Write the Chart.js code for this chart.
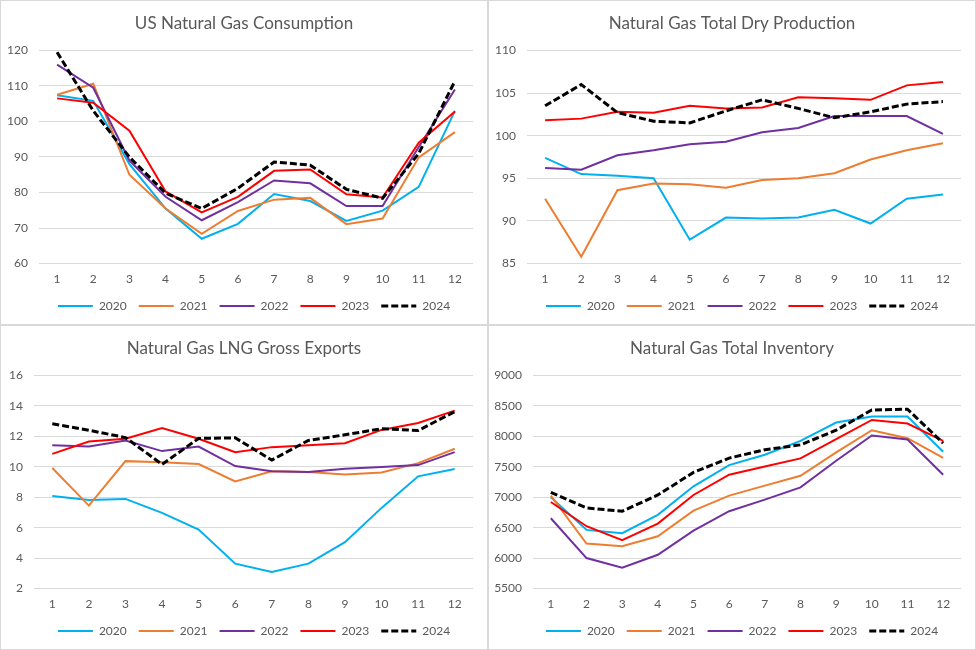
<!DOCTYPE html>
<html>
<head>
<meta charset="utf-8">
<script src="https://cdn.jsdelivr.net/npm/chart.js@4.4.0/dist/chart.umd.min.js"></script>
<style>
    body { margin: 0; background: #ffffff; }
    .painel { position: absolute; width: 488px; height: 325px; box-sizing: border-box; border: 1px solid #d9d9d9; background: #fff; }
    .painel canvas { display: block; }
</style>
</head>
<body>
<div class="painel" style="left:0;top:0"><canvas id="consumo" width="486" height="323"></canvas></div>
<div class="painel" style="left:488px;top:0"><canvas id="producao" width="486" height="323"></canvas></div>
<div class="painel" style="left:0;top:325px"><canvas id="exportacao" width="486" height="323"></canvas></div>
<div class="painel" style="left:488px;top:325px"><canvas id="estoque" width="486" height="323"></canvas></div>

<script>
var meses = ['1', '2', '3', '4', '5', '6', '7', '8', '9', '10', '11', '12'];
var anos = ['2020', '2021', '2022', '2023', '2024'];
var cores = ['#00b0f0', '#ed7d31', '#7030a0', '#ff0000', '#000000'];

// consumo
var consumo2020 = [107.4, 105.8, 88, 75.5, 67, 71.2, 79.6, 77.6, 72, 74.9, 81.6, 103];
var consumo2021 = [107.5, 110.6, 85, 75.5, 68.4, 74.8, 78, 78.5, 71.1, 72.7, 89.9, 97];
var consumo2022 = [116, 109.5, 89, 78.8, 72.2, 77.3, 83.4, 82.6, 76.2, 76.2, 92.8, 109];
var consumo2023 = [106.5, 105.3, 97.4, 80.3, 74.4, 78.8, 86.1, 86.5, 79.5, 78.6, 94, 102.8];
var consumo2024 = [119.5, 103, 90, 79.8, 75.5, 81.2, 88.6, 87.7, 80.9, 78.4, 91, 111.4];

// producao seca total
var producao2020 = [97.4, 95.5, 95.3, 95, 87.8, 90.4, 90.3, 90.4, 91.3, 89.7, 92.6, 93.1];
var producao2021 = [92.6, 85.8, 93.6, 94.4, 94.3, 93.9, 94.8, 95, 95.6, 97.2, 98.3, 99.1];
var producao2022 = [96.2, 96, 97.7, 98.3, 99, 99.3, 100.4, 100.9, 102.3, 102.3, 102.3, 100.2];
var producao2023 = [101.8, 102, 102.8, 102.7, 103.5, 103.2, 103.3, 104.5, 104.4, 104.2, 105.9, 106.3];
var producao2024 = [103.5, 106, 102.7, 101.7, 101.5, 102.9, 104.2, 103.2, 102.1, 102.8, 103.7, 104];

// exportacao LNG
var lng2020 = [8.08, 7.82, 7.89, 6.97, 5.88, 3.64, 3.09, 3.64, 5.05, 7.3, 9.37, 9.85];
var lng2021 = [9.92, 7.45, 10.37, 10.29, 10.18, 9.04, 9.7, 9.65, 9.5, 9.63, 10.24, 11.18];
var lng2022 = [11.42, 11.33, 11.73, 11.03, 11.33, 10.05, 9.7, 9.65, 9.87, 9.98, 10.11, 10.96];
var lng2023 = [10.85, 11.66, 11.84, 12.55, 11.84, 10.96, 11.29, 11.42, 11.55, 12.42, 12.88, 13.69];
var lng2024 = [12.82, 12.4, 11.92, 10.16, 11.86, 11.9, 10.44, 11.73, 12.1, 12.5, 12.38, 13.62];

// estoque total
var estoque2020 = [7000, 6464, 6410, 6710, 7179, 7528, 7697, 7926, 8226, 8324, 8324, 7746];
var estoque2021 = [7026, 6240, 6197, 6360, 6781, 7026, 7190, 7353, 7735, 8100, 7969, 7648];
var estoque2022 = [6655, 6001, 5843, 6055, 6453, 6770, 6961, 7162, 7599, 8013, 7948, 7370];
var estoque2023 = [6922, 6524, 6295, 6568, 7037, 7370, 7506, 7637, 7953, 8269, 8209, 7926];
var estoque2024 = [7081, 6824, 6770, 7037, 7408, 7642, 7779, 7860, 8100, 8433, 8444, 7888];

var fonte = 'Lato, "Open Sans", sans-serif';
var cinza = '#595959';

// o Excel centraliza titulo e legenda no painel inteiro, nao so na area do grafico
var ajustaBlocos = {
    id: 'ajustaBlocos',
    afterLayout: function (chart) {
        chart.legend.left += 17;
        chart.legend.right += 17;
        chart.legend.top -= 6;
        chart.legend.bottom -= 6;
        chart.titleBlock.left += 7;
        chart.titleBlock.right += 7;
    }
};

function legendaComTraco(chart) {
    var itens = Chart.defaults.plugins.legend.labels.generateLabels(chart);
    itens.forEach(function (item) {
        var ds = chart.data.datasets[item.datasetIndex];
        item.lineDash = ds.borderDash;
        item.lineWidth = ds.borderWidth;
        item.strokeStyle = ds.borderColor;
    });
    return itens;
}

function plotarPainel(id, titulo, series, yMin, yMax, passo, larguraEixo) {
    var ctx = document.getElementById(id).getContext('2d');

    var datasets = anos.map(function (ano, i) {
        var tracejado = i === 4;
        return {
            label: ano,
            data: series[i],
            borderColor: cores[i],
            backgroundColor: cores[i],
            borderWidth: tracejado ? 3 : 2,
            borderDash: tracejado ? [7, 3] : [],
            pointRadius: 0,
            tension: 0,
            fill: false,
            order: 4 - i // 2024 por cima
        };
    });

    new Chart(ctx, {
        type: 'line',
        data: { labels: meses, datasets: datasets },
        plugins: [ajustaBlocos],
        options: {
            responsive: false,
            animation: false,
            layout: { padding: { left: 0, right: 14, top: 0, bottom: 0 } },
            plugins: {
                title: {
                    display: true,
                    text: titulo,
                    color: cinza,
                    font: { family: fonte, size: 17, weight: 'normal' },
                    padding: { top: 12, bottom: 17 }
                },
                legend: {
                    position: 'bottom',
                    maxHeight: 30,
                    labels: {
                        usePointStyle: true,
                        pointStyle: 'line',
                        pointStyleWidth: 35,
                        color: cinza,
                        font: { family: fonte, size: 12 },
                        padding: 12,
                        generateLabels: legendaComTraco,
                        sort: function (a, b) { return a.datasetIndex - b.datasetIndex; }
                    }
                },
                tooltip: { enabled: false }
            },
            scales: {
                x: {
                    offset: true,
                    grid: { display: false, drawTicks: false },
                    border: { display: false },
                    ticks: { color: cinza, font: { family: fonte, size: 12 }, padding: 8 }
                },
                y: {
                    min: yMin,
                    max: yMax,
                    ticks: {
                        stepSize: passo,
                        color: cinza,
                        font: { family: fonte, size: 12 },
                        padding: 11,
                        callback: function (v) { return String(v); }
                    },
                    grid: { color: '#d9d9d9', drawTicks: false },
                    border: { display: false },
                    afterFit: function (scale) { scale.width = larguraEixo; }
                }
            }
        }
    });
}

plotarPainel('consumo', 'US Natural Gas Consumption',
    [consumo2020, consumo2021, consumo2022, consumo2023, consumo2024], 60, 120, 10, 38);
plotarPainel('producao', 'Natural Gas Total Dry Production',
    [producao2020, producao2021, producao2022, producao2023, producao2024], 85, 110, 5, 38);
plotarPainel('exportacao', 'Natural Gas LNG Gross Exports',
    [lng2020, lng2021, lng2022, lng2023, lng2024], 2, 16, 2, 33);
plotarPainel('estoque', 'Natural Gas Total Inventory',
    [estoque2020, estoque2021, estoque2022, estoque2023, estoque2024], 5500, 9000, 500, 44);
</script>
</body>
</html>
